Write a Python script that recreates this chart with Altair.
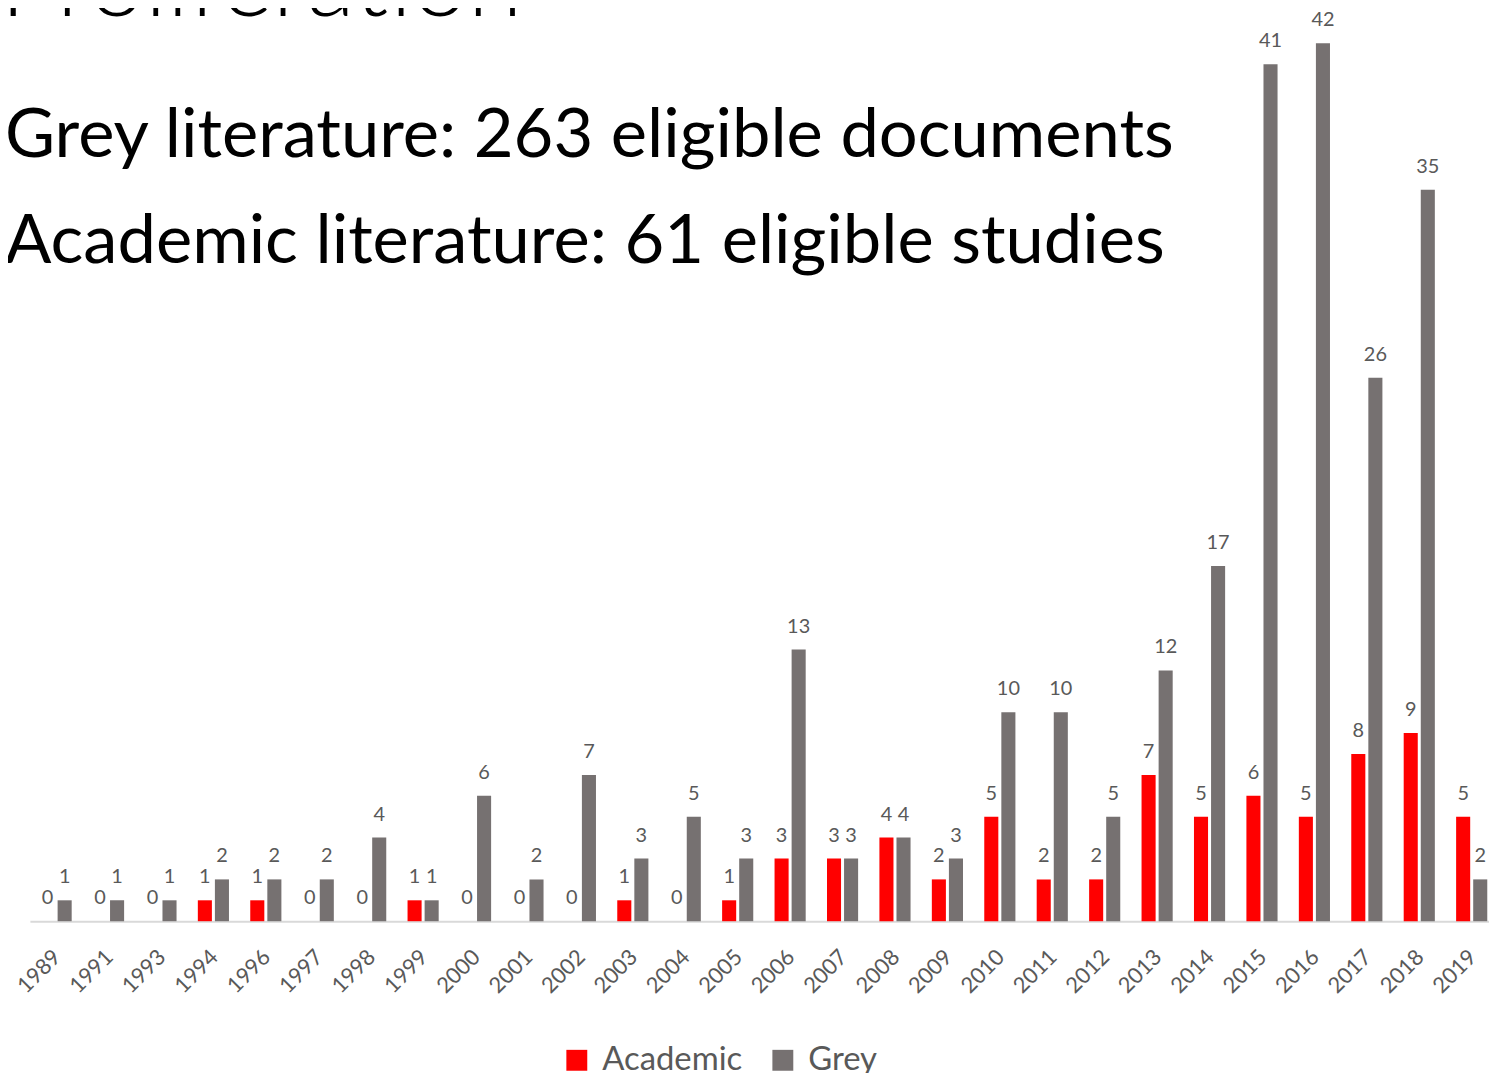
import altair as alt
import pandas as pd

years = [1989, 1991, 1993, 1994, 1996, 1997, 1998, 1999, 2000, 2001, 2002, 2003,
         2004, 2005, 2006, 2007, 2008, 2009, 2010, 2011, 2012, 2013, 2014, 2015,
         2016, 2017, 2018, 2019]
academic = [0, 0, 0, 1, 1, 0, 0, 1, 0, 0, 0, 1, 0, 1, 3, 3, 4, 2, 5, 2, 2, 7, 5, 6, 5, 8, 9, 5]
grey = [1, 1, 1, 2, 2, 2, 4, 1, 6, 2, 7, 3, 5, 3, 13, 3, 4, 3, 10, 10, 5, 12, 17, 41, 42, 26, 35, 2]
series_names = ["Academic", "Grey"]
series_colors = ["#FF0000", "#767171"]
title_text = ["Proliferation"]
heading_lines = ["Grey literature: 263 eligible documents",
                 "Academic literature: 61 eligible studies"]

year_labels = [str(y) for y in years]
rows = []
for i, yr in enumerate(year_labels):
    rows.append({"year": yr, "series": "Academic", "count": academic[i]})
    rows.append({"year": yr, "series": "Grey", "count": grey[i]})
df = pd.DataFrame(rows)

W, H = 1466, 882
FONT = "Lato"
LABEL_COLOR = "#595959"

x_enc = alt.X(
    "year:N", sort=year_labels,
    scale=alt.Scale(paddingInner=0.406, paddingOuter=0.118, align=0.86),
    axis=alt.Axis(title=None, labelAngle=-45, labelFontSize=22, labelColor=LABEL_COLOR,
                  labelFont=FONT, labelBaseline="alphabetic", labelAlign="right",
                  labelOffset=6, domainColor="#D9D9D9", domainWidth=2, ticks=False,
                  labelPadding=37, grid=False),
)
xo_enc = alt.XOffset("series:N", sort=series_names, scale=alt.Scale(paddingInner=0.176))
y_enc = alt.Y("count:Q", scale=alt.Scale(domain=[0, 42], nice=False, zero=True), axis=None)
color_enc = alt.Color(
    "series:N", sort=series_names,
    scale=alt.Scale(domain=series_names, range=series_colors),
    legend=alt.Legend(title=None, orient="none", legendX=533, legendY=1005,
                      direction="horizontal", symbolType="square", symbolSize=441,
                      symbolStrokeWidth=0, labelFontSize=33, labelColor=LABEL_COLOR,
                      labelFont=FONT, labelOffset=9, columnPadding=24, labelLimit=400,
                      padding=0),
)

bars = alt.Chart(df).mark_bar().encode(x=x_enc, xOffset=xo_enc, y=y_enc, color=color_enc)
labels = alt.Chart(df).mark_text(
    baseline="alphabetic", dy=-17, fontSize=20, color=LABEL_COLOR, font=FONT
).encode(x=x_enc, xOffset=xo_enc, y=y_enc, text="count:Q")

title_mark = alt.Chart(pd.DataFrame({"t": title_text})).mark_text(
    align="right", baseline="alphabetic", fontSize=100, fontWeight=300, font=FONT, color="black"
).encode(x=alt.value(495), y=alt.value(-27), text="t:N")

h1 = alt.Chart(pd.DataFrame({"t": [heading_lines[0]]})).mark_text(
    align="left", baseline="alphabetic", fontSize=69, font=FONT, color="black"
).encode(x=alt.value(-25), y=alt.value(114), text="t:N")

h2 = alt.Chart(pd.DataFrame({"t": [heading_lines[1]]})).mark_text(
    align="left", baseline="alphabetic", fontSize=69, font=FONT, color="black"
).encode(x=alt.value(-25), y=alt.value(221), text="t:N")

chart = alt.layer(bars, labels, title_mark, h1, h2).properties(
    width=W, height=H,
    padding={"left": 22, "top": 33, "right": 0, "bottom": 150},
    autosize=alt.AutoSizeParams(type="none"),
).configure_view(stroke=None)

chart.save("out.html", embed_options={"renderer": "svg", "actions": False})
